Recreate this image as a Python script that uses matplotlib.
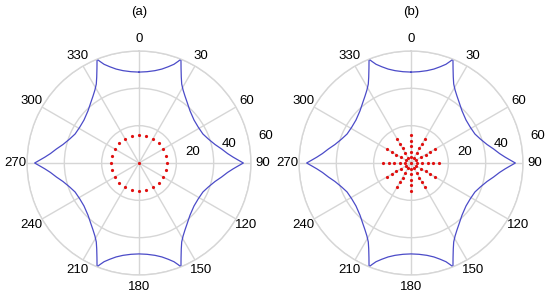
import numpy as np
import matplotlib.pyplot as plt

plt.rcParams['font.family'] = ['Liberation Sans', 'DejaVu Sans']
plt.rcParams['font.size'] = 9.5

# blue curve, first quadrant (compass angle in deg, radius)
curve_deg = [0, 5.0, 9.8, 13.7, 16.9, 19.5, 21.1, 22.0, 23.9, 26.2, 28.4, 31.1, 34.5,
             38.2, 44.3, 52.0, 58.9, 65.6, 70.9, 76.3, 80.4, 83.9, 86.5, 88.4, 90]
curve_r = [48.7, 49.1, 50.2, 51.8, 53.9, 56.1, 58.4, 60.0, 55.6, 51.3, 48.1, 45.7, 43.5,
           41.6, 39.1, 37.4, 37.1, 37.6, 39.3, 41.9, 44.9, 47.7, 50.6, 53.3, 55.9]

# red points (a): ring + centre
ring_deg = [0, 15, 30, 45, 60, 75, 90, 105, 120, 135, 150, 165,
            180, 195, 210, 225, 240, 255, 270, 285, 300, 315, 330, 345]
ring_r = 15

# red points (b): spokes + centre
spoke_deg = [0, 30, 60, 90, 120, 150, 180, 210, 240, 270, 300, 330]
spoke_r = [3, 6, 9, 12, 15]

theta_ticks = [0, 30, 60, 90, 120, 150, 180, 210, 240, 270, 300, 330]
r_ticks = [20, 40, 60]

# mirror the quadrant into the full closed curve (shape is symmetric on both axes)
q = np.array(curve_deg)
rq = np.array(curve_r)
full_deg = np.concatenate([q, 180 - q[::-1], 180 + q, 360 - q[::-1]])
full_r = np.concatenate([rq, rq[::-1], rq, rq[::-1]])

grid_col = '#d6d6d6'
blue = '#4b4bc8'
red = '#e01010'


def setup(ax):
    ax.set_theta_zero_location('N')
    ax.set_theta_direction(-1)
    ax.set_ylim(0, 60)
    ax.set_yticks(r_ticks)
    ax.set_yticklabels([])
    ax.set_xticks(np.deg2rad(theta_ticks))
    ax.set_xticklabels([])
    ax.grid(True, color=grid_col, linewidth=1.0)
    ax.spines['polar'].set_color(grid_col)
    ax.spines['polar'].set_linewidth(1.0)
    for t in theta_ticks:
        ax.text(np.deg2rad(t), 66.4, str(t), ha='center', va='center', clip_on=False)
    for r in r_ticks:
        ax.text(np.deg2rad(78), r + 9.5, str(r), ha='center', va='center', clip_on=False)
    ax.plot(np.deg2rad(full_deg), full_r, color=blue, linewidth=0.9)


fig = plt.figure(figsize=(5.5, 2.99), dpi=100)
w = 224 / 550
h = 224 / 299
axa = fig.add_axes([27 / 550, 24 / 299, w, h], projection='polar')
axb = fig.add_axes([299 / 550, 24 / 299, w, h], projection='polar')

setup(axa)
axa.plot(np.deg2rad(ring_deg), [ring_r] * len(ring_deg), 'o', color=red, markersize=2.3, markeredgewidth=0)
axa.plot([0], [0], 'o', color=red, markersize=2.3, markeredgewidth=0)

setup(axb)
for d in spoke_deg:
    axb.plot(np.deg2rad([d] * len(spoke_r)), spoke_r, 'o', color=red, markersize=2.3, markeredgewidth=0)
axb.plot([0], [0], 'o', color=red, markersize=2.3, markeredgewidth=0)

fig.text(139 / 550, 1 - 12 / 299, '(a)', ha='center', va='center')
fig.text(411 / 550, 1 - 12 / 299, '(b)', ha='center', va='center')

fig.savefig('out.png', dpi=100)
